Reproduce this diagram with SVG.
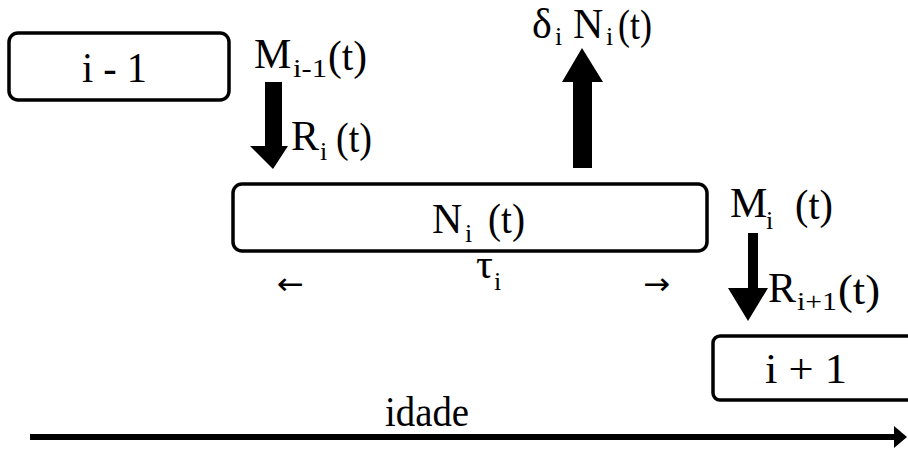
<svg xmlns="http://www.w3.org/2000/svg" width="908" height="450" viewBox="0 0 908 450">
<style>
text{font-family:"Liberation Serif","DejaVu Serif","Times New Roman",serif;fill:#000}
.m{font-size:42px}
.s{font-size:26px}
.a{font-family:"DejaVu Sans",sans-serif;font-size:30px}
.box{fill:#fff;stroke:#000;stroke-width:3.5}
.arr{fill:#000}
</style>
<rect width="908" height="450" fill="#fff"/>
<g id="node-im1">
<rect class="box" x="9" y="33" width="220" height="67" rx="9"/>
<text class="m" x="82" y="82" textLength="65" lengthAdjust="spacingAndGlyphs">i - 1</text>
</g>
<g id="node-Ni">
<rect class="box" x="233" y="184" width="474" height="67" rx="9"/>
<text class="m" x="432" y="233">N</text>
<text class="s" x="465" y="242">i</text>
<text class="m" x="488" y="233" textLength="37" lengthAdjust="spacingAndGlyphs">(t)</text>
</g>
<g id="node-ip1">
<rect class="box" x="713" y="336" width="210" height="64" rx="7"/>
<text class="m" x="765" y="383" textLength="82" lengthAdjust="spacingAndGlyphs">i + 1</text>
</g>
<g id="connectors">
<polygon class="arr" points="265,82 282,82 282,146 288,146 273,169 250,146 265,146"/>
<polygon class="arr" points="573,168 592,168 592,82 603,82 582,48 562,82 573,82"/>
<polygon class="arr" points="748,233 758,233 758,288 768,288 748,321 728,288 748,288"/>
<line x1="30" y1="437" x2="896" y2="437" stroke="#000" stroke-width="6"/>
<polygon class="arr" points="894,426 907,437 894,448"/>
</g>
<g id="labels">
<text class="m" x="254" y="68">M</text>
<text class="s" x="293" y="77" textLength="34" lengthAdjust="spacingAndGlyphs">i-1</text>
<text class="m" x="328" y="70" textLength="39" lengthAdjust="spacingAndGlyphs">(t)</text>
<text class="m" x="291" y="150">R</text>
<text class="s" x="320" y="160">i</text>
<text class="m" x="336" y="152" textLength="36" lengthAdjust="spacingAndGlyphs">(t)</text>
<text class="m" x="532" y="38">δ</text>
<text class="s" x="555" y="45">i</text>
<text class="m" x="573" y="38">N</text>
<text class="s" x="606" y="45">i</text>
<text class="m" x="618" y="39" textLength="34" lengthAdjust="spacingAndGlyphs">(t)</text>
<text class="m" x="476" y="278">τ</text>
<text class="s" x="494" y="290">i</text>
<text class="a" x="277" y="294" textLength="27" lengthAdjust="spacingAndGlyphs">←</text>
<text class="a" x="643" y="294" textLength="27" lengthAdjust="spacingAndGlyphs">→</text>
<text class="m" x="730" y="217">M</text>
<text class="s" x="766" y="229">i</text>
<text class="m" x="795" y="219" textLength="38" lengthAdjust="spacingAndGlyphs">(t)</text>
<text class="m" x="768" y="302">R</text>
<text class="s" x="797" y="310" textLength="40" lengthAdjust="spacingAndGlyphs">i+1</text>
<text class="m" x="838" y="304" textLength="42" lengthAdjust="spacingAndGlyphs">(t)</text>
<text class="m" x="385" y="426" textLength="84" lengthAdjust="spacingAndGlyphs">idade</text>
</g>
</svg>
